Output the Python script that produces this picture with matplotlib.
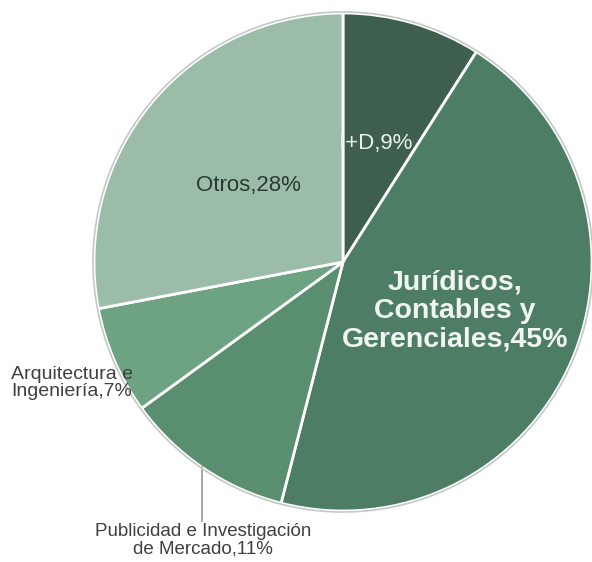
import math
import matplotlib
matplotlib.use("Agg")
import matplotlib.pyplot as plt
from matplotlib.patches import Circle

labels = ["I+D", "Jurídicos,\nContables y\nGerenciales", "Publicidad e Investigación\nde Mercado",
          "Arquitectura e\nIngeniería", "Otros"]
values = [9, 45, 11, 7, 28]
colors = ["#3f5f4e", "#4e7d66", "#5a8e71", "#6da283", "#9bbca8"]

plt.rcParams['font.family'] = ['Liberation Sans', 'DejaVu Sans']

W, H = 592, 562
fig = plt.figure(figsize=(W / 100, H / 100), dpi=100)
ax = fig.add_axes([0, 0, 1, 1])
cx, cy, R = 343, 262, 249

wedges, _ = ax.pie(values, colors=colors, startangle=90, counterclock=False, radius=R,
                   center=(0, 0), wedgeprops=dict(edgecolor='white', linewidth=2),
                   frame=True)
ax.set_xlim(-cx, W - cx)
ax.set_ylim(cy - H, cy)
ax.set_aspect('auto')
ax.axis('off')
ax.add_patch(Circle((0, 0), R + 1, fill=False, edgecolor='#c4c8c6', linewidth=1.2, zorder=3))

def P(px, py):
    return px - cx, cy - py

# I+D label (partially hidden by neighbouring slice in the reference)
t = ax.text(*P(376, 143), f"{labels[0]},{values[0]}%", ha='center', va='center',
            fontsize=16, color='#e8f0ec', zorder=4)
t.set_clip_path(wedges[0])

ax.text(*P(455, 311), f"{labels[1]},{values[1]}%", ha='center', va='center',
        fontsize=20.5, fontweight='bold', color='#f0f5f2', linespacing=1.12, zorder=4)

ax.text(*P(248, 185), f"{labels[4]},{values[4]}%", ha='center', va='center',
        fontsize=16, color='#2a3a32', zorder=4)

ax.text(*P(11, 383), f"{labels[3]},{values[3]}%", ha='left', va='center',
        fontsize=14, color='#404040', linespacing=1.05, zorder=4)

ax.text(*P(203, 540), f"{labels[2]},{values[2]}%", ha='center', va='center',
        fontsize=13.5, color='#404040', linespacing=1.05, zorder=4)

x0, _ = P(202, 0)
yedge = -math.sqrt(R ** 2 - x0 ** 2)
ax.plot([x0, x0], [yedge, P(0, 521)[1]], color='#a0a0a0', linewidth=1.3, zorder=2)

fig.savefig("out.png", dpi=100, facecolor='white')
